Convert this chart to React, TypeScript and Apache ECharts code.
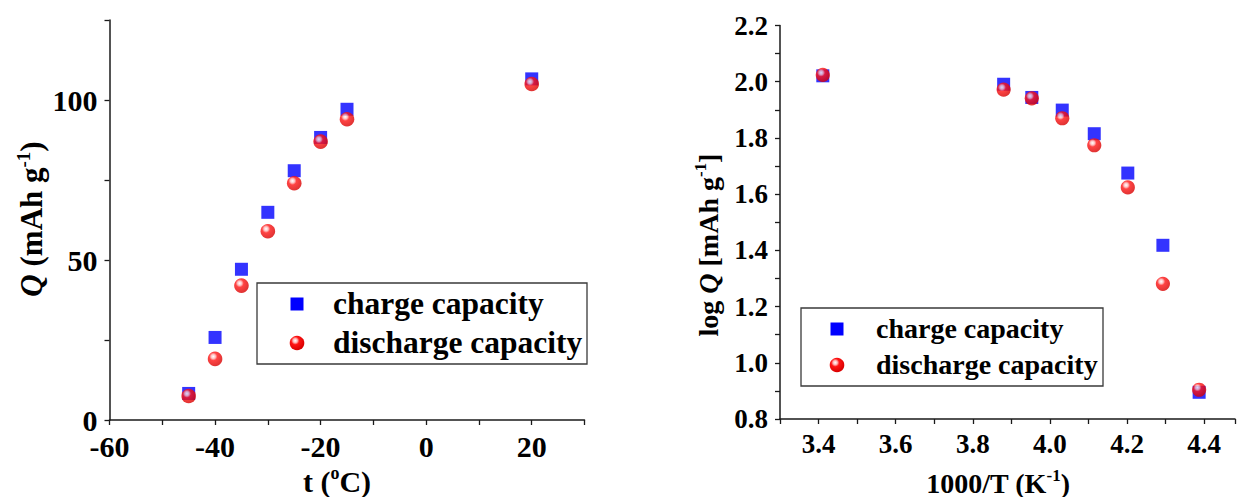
import React, { useEffect, useRef } from "react";
import * as echarts from "echarts";

// ---- data ----
const tempC = [-45, -40, -35, -30, -25, -20, -15, 20];
const chargeQ = [8.3, 25.8, 47.1, 64.9, 77.9, 88.3, 97.1, 106.6];
const dischargeQ = [7.5, 19.1, 42, 59, 74, 87, 94, 105];

const invT = [3.411, 3.88, 3.953, 4.032, 4.115, 4.202, 4.293, 4.387];
const logCharge = [2.021, 1.991, 1.944, 1.899, 1.815, 1.675, 1.418, 0.895];
const logDischarge = [2.024, 1.972, 1.941, 1.87, 1.774, 1.624, 1.281, 0.904];

const legendNames = ["charge capacity", "discharge capacity"];

const FONT = "Liberation Serif, Times New Roman, serif";

const redBall = () =>
  new echarts.graphic.RadialGradient(0.38, 0.34, 0.66, [
    { offset: 0, color: "#ffffff" },
    { offset: 0.22, color: "#ffb4b4" },
    { offset: 0.42, color: "#ff1414" },
    { offset: 1, color: "#d80000" },
  ]);

const BLUE = "#0000ff";

function axisCommon(fs: number, margin: number, fmt: (v: number) => string) {
  return {
    axisLine: { show: true, onZero: false, lineStyle: { color: "#1a1a1a", width: 1.5 } },
    axisTick: { show: true, inside: false, length: 5, lineStyle: { color: "#1a1a1a", width: 1.3 } },
    splitLine: { show: false },
    axisLabel: {
      color: "#000",
      fontFamily: FONT,
      fontWeight: "bold" as const,
      fontSize: fs,
      lineHeight: 22,
      margin,
      formatter: fmt,
      showMinLabel: true,
      showMaxLabel: true,
    },
  };
}

function richTitle(fs: number) {
  return {
    n: { fontFamily: FONT, fontWeight: "bold", fontSize: fs, lineHeight: fs + 4, fill: "#000" },
    i: { fontFamily: FONT, fontWeight: "bold", fontStyle: "italic", fontSize: fs, lineHeight: fs + 4, fill: "#000" },
    s: {
      fontFamily: FONT,
      fontWeight: "bold",
      fontSize: Math.round(fs * 0.6),
      lineHeight: Math.round(fs * 0.6),
      verticalAlign: "top",
      fill: "#000",
    },
  };
}

function legendBox(
  x: number,
  y: number,
  w: number,
  h: number,
  mx: number,
  row1: number,
  row2: number,
  tx: number,
  fs: number
) {
  return {
    type: "group",
    children: [
      {
        type: "rect",
        shape: { x, y, width: w, height: h },
        style: { fill: "#fff", stroke: "#3a3a3a", lineWidth: 1.3 },
        z: 10,
      },
      {
        type: "rect",
        shape: { x: mx - 6.5, y: row1 - 6.5, width: 13, height: 13 },
        style: { fill: BLUE },
        z: 11,
      },
      {
        type: "circle",
        shape: { cx: mx, cy: row2, r: 7.3 },
        style: { fill: redBall() },
        z: 11,
      },
      {
        type: "text",
        x: tx,
        y: row1 - 1,
        style: {
          text: legendNames[0],
          fontFamily: FONT,
          fontWeight: "bold",
          fontSize: fs,
          fill: "#000",
          align: "left",
          verticalAlign: "middle",
        },
        z: 11,
      },
      {
        type: "text",
        x: tx,
        y: row2 - 1,
        style: {
          text: legendNames[1],
          fontFamily: FONT,
          fontWeight: "bold",
          fontSize: fs,
          fill: "#000",
          align: "left",
          verticalAlign: "middle",
        },
        z: 11,
      },
    ],
  };
}

export default function App() {
  const ref = useRef<HTMLDivElement>(null);

  useEffect(() => {
    document.body.style.margin = "0";
    if (!ref.current) return;
    const chart = echarts.init(ref.current, undefined, { renderer: "svg" });

    const option: any = {
      animation: false,
      backgroundColor: "#ffffff",
      grid: [
        { left: 109.5, top: 20, width: 475, height: 400 },
        { left: 780, top: 25.5, width: 457.8, height: 393.5 },
      ],
      xAxis: [
        {
          gridIndex: 0,
          type: "value",
          min: -60,
          max: 30,
          interval: 10,
          ...axisCommon(30, 15, (v: number) => (Math.round(v) % 20 === 0 ? String(Math.round(v)) : "")),
        },
        {
          gridIndex: 1,
          type: "value",
          min: 3.3,
          max: 4.48,
          interval: 0.1,
          ...axisCommon(27, 14, (v: number) => {
            const k = Math.round(v * 10);
            return Math.abs(v * 10 - k) < 1e-6 && k % 2 === 0 ? (k / 10).toFixed(1) : "";
          }),
        },
      ],
      yAxis: [
        {
          gridIndex: 0,
          type: "value",
          min: 0,
          max: 125,
          interval: 25,
          ...axisCommon(30, 12, (v: number) => (Math.round(v) % 50 === 0 ? String(Math.round(v)) : "")),
        },
        {
          gridIndex: 1,
          type: "value",
          min: 0.8,
          max: 2.2,
          interval: 0.1,
          ...axisCommon(27, 12, (v: number) => {
            const k = Math.round(v * 10);
            return k % 2 === 0 ? (k / 10).toFixed(1) : "";
          }),
        },
      ],
      series: [
        {
          name: legendNames[0],
          type: "scatter",
          xAxisIndex: 0,
          yAxisIndex: 0,
          symbol: "rect",
          symbolSize: 13,
          itemStyle: { color: BLUE },
          data: tempC.map((t, i) => [t, chargeQ[i]]),
          z: 2,
        },
        {
          name: legendNames[1],
          type: "scatter",
          xAxisIndex: 0,
          yAxisIndex: 0,
          symbol: "circle",
          symbolSize: 14.6,
          itemStyle: { color: redBall() },
          data: tempC.map((t, i) => [t, dischargeQ[i]]),
          z: 3,
        },
        {
          name: legendNames[0],
          type: "scatter",
          xAxisIndex: 1,
          yAxisIndex: 1,
          symbol: "rect",
          symbolSize: 13,
          itemStyle: { color: BLUE },
          data: invT.map((t, i) => [t, logCharge[i]]),
          z: 2,
        },
        {
          name: legendNames[1],
          type: "scatter",
          xAxisIndex: 1,
          yAxisIndex: 1,
          symbol: "circle",
          symbolSize: 14.2,
          itemStyle: { color: redBall() },
          data: invT.map((t, i) => [t, logDischarge[i]]),
          z: 3,
        },
      ],
      graphic: [
        legendBox(257, 283, 330, 81, 297, 304, 343, 333, 31.5),
        legendBox(801, 308, 302, 78, 837, 329, 365, 876, 28),
        {
          type: "text",
          x: 31,
          y: 219,
          rotation: Math.PI / 2,
          style: {
            text: "{i|Q}{n| (mAh g}{s|-1}{n|)}",
            rich: richTitle(31),
            align: "center",
            verticalAlign: "middle",
          },
        },
        {
          type: "text",
          x: 337,
          y: 481,
          style: {
            text: "{n|t (}{s|o}{n|C)}",
            rich: richTitle(30),
            align: "center",
            verticalAlign: "middle",
          },
        },
        {
          type: "text",
          x: 708,
          y: 245,
          rotation: Math.PI / 2,
          style: {
            text: "{n|log }{i|Q}{n| [mAh g}{s|-1}{n|]}",
            rich: richTitle(28),
            align: "center",
            verticalAlign: "middle",
          },
        },
        {
          type: "text",
          x: 998,
          y: 483,
          style: {
            text: "{n|1000/T (K}{s|-1}{n|)}",
            rich: richTitle(28),
            align: "center",
            verticalAlign: "middle",
          },
        },
      ],
    };

    chart.setOption(option);
    return () => {
      chart.dispose();
    };
  }, []);

  return <div ref={ref} style={{ width: 1238, height: 497, position: "absolute", left: 0, top: 0 }} />;
}
